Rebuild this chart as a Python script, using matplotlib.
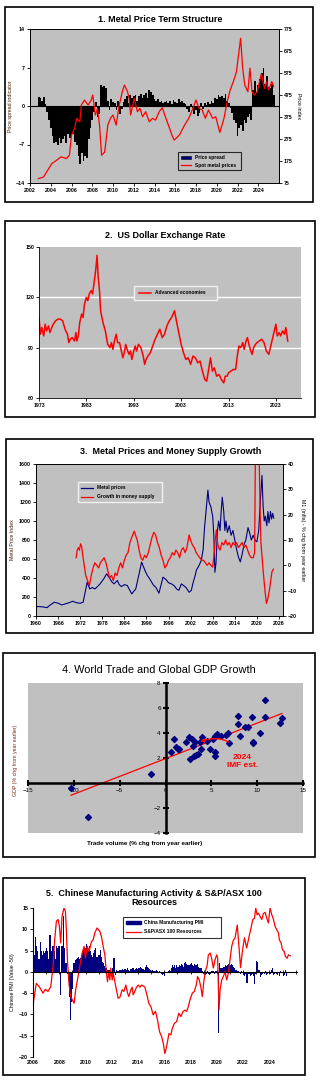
import numpy as np
import matplotlib
matplotlib.use("Agg")
import matplotlib.pyplot as plt
from matplotlib.patches import Rectangle, Patch
from matplotlib.lines import Line2D

plt.rcParams['font.family'] = ['Liberation Sans', 'DejaVu Sans']
plt.rcParams['font.weight'] = 'bold'

# ---- 1. Metal price term structure ----
spread_start = 2002.75          # bimonthly bars
spread = [1.7, 1.5,
          1.0, 1.6, 0.3, -1.0, -2.5, -4.0,
          -5.5, -6.8, -6.5, -7.0, -5.8, -6.8,
          -6.0, -5.5, -6.8, -5.0, -5.8, -5.5,
          -5.0, -6.5, -7.0, -9.0, -10.5, -8.5,
          -10.0, -9.0, -9.5, -6.0, -4.0, -2.5,
          -1.0, 0.8, -2.0, -1.5, 3.9, 3.5,
          3.7, 3.2, 1.0, -0.8, 1.2, 0.8,
          0.5, -0.8, 1.0, -1.5, -0.5, 0.8,
          1.2, 1.8, 0.5, 2.0, 1.5, 1.9,
          2.0, 1.0, 1.8, 2.2, 1.5, 2.0,
          2.3, 1.5, 2.9, 2.6, 2.0, 1.2,
          1.0, 1.3, 0.7, 0.9, 0.5, 0.8,
          1.0, 0.6, 0.9, 0.4, 1.1, 0.8,
          0.6, 1.2, 0.7, 1.0, 0.5, 0.3,
          -0.5, -1.0, 0.4, -0.3, -1.4, -0.8,
          -1.8, -1.2, 0.6, -0.5, 0.5, 0.2,
          0.8, 0.4, 1.0, 0.6, 1.5, 1.2,
          2.0, 1.6, 1.8, 1.4, 2.2, 1.0,
          0.5, -0.3, -1.2, -2.5, -3.0, -5.5,
          -4.0, -3.5, -4.5, -2.5, -3.0, -2.0,
          -1.5, -2.5, 3.0, 4.5, 2.5, 3.8,
          5.0, 6.0, 7.0, 4.0, 5.5, 3.5,
          3.2, 4.0, 2.0]
spot_years = [2002.8, 2003.3, 2003.6, 2004.1, 2004.55, 2005.0, 2005.5, 2005.8, 2006.0, 2006.3,
              2006.5, 2006.8, 2006.95, 2007.25, 2007.6, 2007.9, 2008.05, 2008.3, 2008.5, 2008.7,
              2008.9, 2009.2, 2009.5, 2009.75, 2010.0, 2010.3, 2010.6, 2010.9, 2011.1, 2011.4,
              2011.55, 2011.7, 2012.05, 2012.35, 2012.6, 2012.85, 2013.15, 2013.5, 2013.8, 2014.1,
              2014.45, 2014.75, 2015.1, 2015.4, 2015.7, 2015.9, 2016.4, 2016.9, 2017.3, 2017.7,
              2018.0, 2018.3, 2018.6, 2018.9, 2019.2, 2019.6, 2019.9, 2020.3, 2020.7, 2021.0,
              2021.3, 2021.6, 2021.9, 2022.1, 2022.3, 2022.5, 2022.7, 2023.0, 2023.2, 2023.4,
              2023.6, 2023.9, 2024.3, 2024.6, 2024.8, 2025.0, 2025.3, 2025.5]
spot_prices = [95, 102, 125, 163, 178, 194, 186, 201, 292, 323,
               369, 353, 429, 452, 429, 452, 475, 384, 414, 338,
               201, 216, 338, 369, 384, 338, 429, 490, 520, 490,
               460, 384, 460, 399, 414, 376, 399, 353, 369, 361,
               399, 417, 369, 330, 290, 270, 293, 338, 369, 414,
               452, 414, 407, 369, 407, 369, 376, 305, 369, 444,
               498, 536, 581, 657, 733, 597, 520, 490, 597, 490,
               475, 490, 573, 505, 536, 498, 536, 513]

# ---- 2. US dollar exchange rate ----
usd_years = [1973.0, 1973.3, 1973.6, 1974.0, 1974.3, 1974.6, 1975.0, 1975.3, 1975.7, 1976.0,
             1976.5, 1977.0, 1977.5, 1978.0, 1978.5, 1979.0, 1979.3, 1979.6, 1980.0, 1980.5,
             1980.8, 1981.0, 1981.3, 1981.6, 1982.0, 1982.3, 1982.6, 1983.0, 1983.3, 1983.6,
             1984.0, 1984.3, 1984.6, 1985.0, 1985.25, 1985.5, 1985.8, 1986.0, 1986.5, 1987.0,
             1987.5, 1988.0, 1988.3, 1988.6, 1989.0, 1989.3, 1989.6, 1990.0, 1990.4, 1990.7,
             1991.0, 1991.3, 1991.6, 1992.0, 1992.3, 1992.6, 1993.0, 1993.3, 1993.6, 1994.0,
             1994.5, 1995.0, 1995.3, 1995.6, 1996.0, 1996.5, 1997.0, 1997.5, 1998.0, 1998.5,
             1999.0, 1999.5, 2000.0, 2000.5, 2001.0, 2001.6, 2002.0, 2002.5, 2003.0, 2003.5,
             2004.0, 2004.5, 2005.0, 2005.5, 2006.0, 2006.5, 2007.0, 2007.5, 2008.0, 2008.4,
             2008.8, 2009.2, 2009.6, 2010.0, 2010.5, 2011.0, 2011.5, 2012.0, 2012.3, 2012.7,
             2013.0, 2013.5, 2014.0, 2014.5, 2014.9, 2015.2, 2015.6, 2016.0, 2016.3, 2016.7,
             2017.0, 2017.3, 2017.7, 2018.0, 2018.3, 2018.7, 2019.0, 2019.5, 2020.0, 2020.5,
             2021.0, 2021.5, 2022.0, 2022.5, 2023.0, 2023.3, 2023.7, 2024.0, 2024.4, 2024.8,
             2025.1, 2025.5]
usd_index = [108, 98, 102, 97, 104, 100, 103, 99, 102, 104,
             106, 107, 107, 106, 101, 98, 93, 95, 96, 94,
             99, 94, 97, 105, 110, 108, 116, 120, 118, 122,
             124, 122, 128, 137, 145, 132, 123, 112, 105, 100,
             92, 90, 93, 89, 95, 98, 93, 93, 88, 84,
             87, 92, 89, 86, 88, 83, 88, 91, 88, 92,
             90, 85, 80, 83, 85, 87, 91, 95, 98, 101,
             96, 98, 103, 106, 108, 112, 106, 99, 92, 87,
             83, 84, 80, 85, 84, 81, 82, 76, 71, 70,
             77, 84, 76, 78, 73, 74, 71, 69, 73, 73,
             75, 76, 77, 77, 86, 91, 90, 93, 89, 94,
             96, 92, 88, 86, 90, 92, 93, 94, 95, 93,
             88, 86, 92, 98, 104, 97, 99, 97, 100, 98,
             102, 94]

# ---- 3. Metal prices and money supply growth ----
metal_years = [1960, 1961, 1962, 1963, 1964, 1965, 1966, 1967, 1968, 1969,
               1970, 1971, 1972, 1972.8, 1973.4, 1973.9, 1974.6, 1975.3, 1976, 1976.7,
               1977.4, 1978.4, 1979.2, 1980.1, 1980.6, 1981.2, 1982.1, 1982.6, 1983.2, 1984,
               1984.8, 1985.5, 1986, 1987.1, 1988, 1988.7, 1989.6, 1990.2, 1990.9, 1991.5,
               1992, 1992.6, 1993.4, 1994.5, 1995.4, 1996, 1996.8, 1997.5, 1998.2, 1998.8,
               1999.5, 2000.1, 2000.7, 2001.6, 2002.2, 2002.7, 2003.2, 2003.6, 2004.3, 2004.9,
               2005.4, 2005.8, 2006.3, 2006.7, 2007.0, 2007.5, 2008.0, 2008.3, 2008.6, 2008.9,
               2009.3, 2009.6, 2010.0, 2010.3, 2010.6, 2011.0, 2011.3, 2011.6, 2012.0, 2012.5,
               2013.0, 2013.5, 2014.0, 2014.5, 2015.0, 2015.5, 2016.0, 2016.5, 2017.0, 2017.6,
               2018.0, 2018.5, 2019.0, 2019.5, 2020.0, 2020.5, 2021.0, 2021.4, 2021.7, 2022.0,
               2022.3, 2022.7, 2023.0, 2023.3, 2023.7, 2024.0, 2024.3, 2024.6]
metal_index = [100, 99, 95, 88, 120, 145, 135, 116, 128, 140,
               155, 140, 134, 145, 260, 356, 285, 300, 285, 310,
               338, 391, 444, 391, 360, 338, 374, 330, 310, 330,
               321, 270, 233, 285, 444, 567, 479, 430, 391, 350,
               321, 300, 240, 409, 381, 350, 338, 320, 285, 270,
               338, 320, 303, 250, 270, 356, 420, 486, 532, 585,
               700, 938, 1150, 1325, 1200, 1150, 1050, 850, 460, 560,
               900, 1000, 900, 1100, 1250, 1100, 900, 1000, 880, 950,
               850, 900, 800, 700, 620, 570, 650, 750, 800, 930,
               880, 800, 850, 800, 780, 900, 1250, 1480, 1150, 1000,
               1050, 950, 1100, 980, 1100, 1020, 1080, 1030]
m1_years = [1970.9, 1971.2, 1971.5, 1971.8, 1972.1, 1972.4, 1972.7, 1973.0, 1973.5, 1974.0,
            1974.5, 1975.0, 1975.5, 1976.0, 1976.5, 1977.0, 1977.5, 1978.0, 1978.5, 1979.0,
            1979.5, 1980.0, 1980.5, 1981.0, 1981.5, 1982.0, 1982.5, 1983.0, 1983.5, 1984.0,
            1984.5, 1985.0, 1985.5, 1986.0, 1986.7, 1987.0, 1987.5, 1988.0, 1988.5, 1989.0,
            1989.5, 1990.0, 1990.5, 1991.0, 1991.5, 1992.0, 1992.5, 1993.0, 1993.5, 1994.0,
            1994.5, 1995.0, 1995.5, 1996.0, 1996.5, 1997.0, 1997.5, 1998.0, 1998.5, 1999.0,
            1999.5, 2000.0, 2000.5, 2001.0, 2001.6, 2002.0, 2002.5, 2003.0, 2003.5, 2004.0,
            2004.5, 2005.0, 2005.5, 2006.0, 2006.5, 2007.0, 2007.5, 2008.0, 2008.4, 2008.7,
            2009.0, 2009.3, 2009.6, 2010.0, 2010.5, 2011.0, 2011.5, 2012.0, 2012.5, 2013.0,
            2013.5, 2014.0, 2014.5, 2015.0, 2015.5, 2016.0, 2016.5, 2017.0, 2017.5, 2018.0,
            2018.5, 2019.0, 2019.4, 2019.6, 2020.6, 2020.9, 2021.1, 2021.7, 2022.2, 2022.6,
            2023.0, 2023.5, 2024.1, 2024.5]
m1_growth = [3, 6, 7, 6, 8.5, 7.5, 4, 1, -4, -6,
             -8, -4, -1, 1, 0, -1, 1, 2, 3, 1,
             -2, -5, -4, -6, -3, -4, -1, 1, -1, 2,
             4, 5, 9, 11, 13.5, 12, 10, 6, 3, 2,
             4, 3, 5, 8, 11, 13, 12, 9, 7, 4,
             2, -1, 0, 2, 3, 5, 4, 6, 5, 3,
             6, 7, 5, 7, 12, 10, 8, 7, 5, 4,
             3, 2, 2, 1, 0, 1, 0, -0.7, 5, 10,
             14, 9, 7, 6, 9, 8, 10, 8, 9, 7,
             9, 8, 9, 7, 8, 9, 7, 8, 6, 4,
             3, 3, 5, 45, 45, 20, 9, -2, -10, -15,
             -13, -9, -2.5, -1.5]

# ---- 4. World trade and global GDP growth ----
trade_growth = [-10.3, -8.5, -1.6, 0.6, 0.95, 1.1, 1.35, 1.5, 2.25, 2.6,
                2.7, 2.9, 3.0, 3.1, 3.25, 3.35, 3.55, 3.75, 4.0, 3.9,
                4.5, 4.8, 5.2, 5.35, 5.4, 5.45, 5.65, 6.0, 6.55, 6.8,
                6.95, 7.95, 7.9, 8.15, 8.65, 8.95, 9.4, 9.5, 9.55, 10.35,
                10.85, 10.9, 12.5, 12.7]
gdp_growth = [-0.38, -2.7, 0.7, 2.47, 3.5, 2.9, 2.75, 2.7, 3.28, 3.66,
              1.92, 3.5, 2.95, 2.2, 3.28, 2.25, 2.3, 3.28, 3.66, 2.75,
              3.36, 2.7, 3.5, 3.77, 2.5, 2.2, 3.9, 3.8, 3.85, 4.04,
              3.22, 5.34, 4.7, 3.77, 4.5, 4.5, 5.28, 3.3, 3.2, 4.04,
              6.64, 5.26, 4.8, 5.2]
trend_x = [-10.3, 12.7]
trend_y = [-0.98, 5.56]
est_2024 = (3.8, 3.3)

# ---- 5. Chinese PMI and S&P/ASX 100 resources ----
pmi_start = 2006.0              # monthly bars, PMI - 50
pmi = [5.0, 4.0, 8.2, 6.0, 5.0, 3.0, 7.0, 5.0, 4.0, 5.0, 4.5, 5.0,
       5.5, 5.0, 3.0, 8.7, 5.0, 6.0, 6.0, 5.0, 3.0, 6.0, 5.5, 6.0,
       6.0, -5.4, 6.0, 13.2, 5.5, 2.0, 2.0, -0.5, -2.0, -6.0, -11.2, -7.0,
       -4.0, 2.0, 2.8, 3.0, 3.2, 3.5, 3.0, 3.2, 4.0, 4.5, 5.2, 5.5,
       6.5, 6.0, 5.0, 6.0, 5.0, 4.0, 3.6, 4.5, 5.2, 5.5, 3.6, 4.0,
       4.0, 5.2, 3.5, 2.4, 2.0, 1.3, 1.0, 0.8, 0.5, 0.5, 0.2, 0.0,
       0.8, 3.2, 3.2, -0.7, 0.5, 0.3, 0.2, 0.5, 0.4, 0.6, 0.5, 0.7,
       0.6, 0.4, 0.8, 0.5, 0.3, 0.6, 0.8, 1.0, 0.5, 0.7, 0.8, 0.6,
       1.0, 0.8, 1.2, 1.0, 0.6, 0.4, 1.2, 1.5, 1.2, 0.8, 0.6, 0.5,
       0.3, 0.4, 0.2, 0.3, 0.4, 0.2, 0.0, 0.1, -0.3, -0.5, -0.8, -0.6,
       -1.0, -0.2, 0.0, 0.2, 0.5, 0.3, 0.8, 1.5, 1.2, 1.5, 1.0, 1.5,
       1.2, 1.6, 1.4, 1.8, 1.5, 1.2, 2.0, 2.2, 1.8, 1.5, 1.6, 1.8,
       2.0, 1.6, 1.4, 1.8, 1.6, 1.5, 1.8, 1.2, 1.0, 0.8, 0.2, -0.5,
       -0.6, -0.8, -0.5, 0.3, -0.4, -0.8, -0.5, 0.3, 0.2, -0.4, 0.2, 0.3,
       0.0, -14.3, 2.0, 1.0, 0.8, 1.0, 1.2, 1.5, 1.3, 1.5, 1.8, 1.4,
       1.6, 1.8, 1.5, 1.2, 1.0, 0.5, 0.3, 0.2, -0.3, -0.5, 0.2, -0.3,
       -0.8, -1.0, -0.5, -2.7, -0.5, -0.4, -1.0, -0.8, -0.6, -0.9, -2.9, -0.5,
       2.6, 2.2, 0.5, -1.2, -0.8, -0.5, -0.3, -0.6, 0.2, -0.8, -0.4, -0.3,
       -0.5, 0.4, 0.8, -0.8, -0.5, -0.3, -0.5, -0.7, -0.2, -1.0, 0.3, -0.2,
       -1.0, -0.8, 0.4, -1.0]
asx_years = [2006.0, 2006.25, 2006.5, 2006.76, 2006.94, 2007.14, 2007.35, 2007.53, 2007.65, 2007.78,
             2007.91, 2008.01, 2008.11, 2008.21, 2008.36, 2008.47, 2008.54, 2008.62, 2008.75, 2008.87,
             2009.0, 2009.13, 2009.25, 2009.43, 2009.56, 2009.74, 2009.89, 2009.99, 2010.14, 2010.27,
             2010.45, 2010.58, 2010.7, 2010.88, 2011.09, 2011.21, 2011.34, 2011.47, 2011.59, 2011.67,
             2011.77, 2011.85, 2011.92, 2012.03, 2012.1, 2012.23, 2012.36, 2012.48, 2012.61, 2012.79,
             2012.92, 2013.07, 2013.2, 2013.3, 2013.45, 2013.55, 2013.63, 2013.75, 2013.88, 2014.01,
             2014.14, 2014.26, 2014.39, 2014.52, 2014.67, 2014.82, 2014.98, 2015.15, 2015.33, 2015.48,
             2015.64, 2015.79, 2015.92, 2016.04, 2016.17, 2016.35, 2016.5, 2016.6, 2016.76, 2016.93,
             2017.11, 2017.26, 2017.42, 2017.57, 2017.7, 2017.82, 2017.95, 2018.13, 2018.28, 2018.43,
             2018.53, 2018.66, 2018.79, 2018.89, 2019.02, 2019.15, 2019.25, 2019.35, 2019.5, 2019.6,
             2019.73, 2019.86, 2019.98, 2020.06, 2020.16, 2020.24, 2020.37, 2020.52, 2020.62, 2020.75,
             2020.87, 2021.0, 2021.13, 2021.26, 2021.38, 2021.55, 2021.68, 2021.8, 2021.95, 2022.1,
             2022.27, 2022.45, 2022.6, 2022.73, 2022.86, 2022.96, 2023.06, 2023.16, 2023.29, 2023.42,
             2023.54, 2023.67, 2023.8, 2023.92, 2024.05, 2024.18, 2024.31, 2024.43, 2024.56, 2024.69,
             2024.76, 2024.89, 2024.99, 2025.12, 2025.22, 2025.35, 2025.45, 2025.58]
asx_values = [-7.8, -2.7, -3.6, -5.0, -4.1, -4.6, -3.5, 1.3, 7.5, 11.9,
              12.3, 10.7, 6.8, 13.0, 15.0, 14.2, 9.9, 2.8, -3.1, -5.8,
              -6.6, -7.4, -4.2, -1.1, 1.3, 4.4, 6.0, 3.2, 6.0, 4.8,
              7.1, 7.5, 9.1, 10.3, 9.5, 8.3, 6.0, 4.0, -0.3, -2.3,
              0.1, -1.9, 0.9, -1.9, -0.3, -2.3, -4.2, -6.2, -6.0, -4.2,
              -4.6, -3.1, -5.0, -5.8, -4.2, -3.6, -5.4, -4.6, -3.6, -3.1,
              -3.6, -3.1, -3.3, -3.6, -5.4, -7.4, -8.2, -10.1, -9.3, -11.3,
              -14.1, -15.2, -16.8, -19.2, -17.6, -14.5, -14.8, -13.3, -12.1, -11.7,
              -9.7, -10.5, -9.3, -9.0, -9.3, -8.2, -6.6, -5.0, -4.6, -3.1,
              -1.1, -1.9, -3.8, -5.8, -1.9, 0.5, 1.3, 4.0, 4.4, 3.2,
              0.9, 2.8, 4.0, 3.2, -9.0, -4.2, -1.9, -0.9, 0.1, -1.9,
              -0.3, 2.8, 6.0, 7.5, 7.9, 11.0, 6.0, 1.0, 5.0, 8.0,
              5.6, 8.3, 10.3, 12.3, 12.6, 15.0, 13.4, 13.8, 13.0, 12.3,
              13.7, 14.0, 12.6, 11.5, 15.0, 13.4, 12.3, 10.7, 9.9, 9.1,
              7.5, 6.8, 5.2, 4.8, 3.6, 3.2, 4.0, 3.8]

NAVY = '#000080'
GREY = '#c0c0c0'
W, H = 322, 1082

fig = plt.figure(figsize=(W / 100, H / 100), dpi=100)
fig.patch.set_facecolor('white')


def rect(x0, y0, x1, y1):
    return [x0 / W, 1 - y1 / H, (x1 - x0) / W, (y1 - y0) / H]


def frame(x0, y0, x1, y1):
    fig.add_artist(Rectangle((x0 / W, 1 - y1 / H), (x1 - x0) / W, (y1 - y0) / H,
                             transform=fig.transFigure, fill=False,
                             edgecolor='black', linewidth=1.2))


def title(x, y, s, size=6.5, weight='bold'):
    fig.text(x / W, 1 - y / H, s, ha='center', va='center', fontsize=size,
             fontweight=weight, linespacing=1.1)


def small_ticks(ax, size=3.8):
    ax.tick_params(labelsize=size, length=2, width=0.6, pad=1.5)


# panel 1
frame(5, 7, 313, 202)
title(160, 19, "1. Metal Price Term Structure")
ax1 = fig.add_axes(rect(30, 29, 279, 183))
ax1.set_facecolor(GREY)
spread_x = spread_start + np.arange(len(spread)) / 6
ax1.bar(spread_x, spread, width=1 / 6, align='edge', color='black', linewidth=0)
ax1.axhline(0, color='black', linewidth=0.8)
ax1.set_xlim(2002, 2026)
ax1.set_ylim(-14, 14)
ax1.set_xticks(np.arange(2002, 2025, 2))
ax1.set_yticks([-14, -7, 0, 7, 14])
small_ticks(ax1)
ax1.set_ylabel("Price spread indicator", fontsize=3.8, color='#4a2000', labelpad=2)
ax1r = ax1.twinx()
ax1r.plot(spot_years, spot_prices, color='red', linewidth=0.9)
ax1r.set_ylim(75, 775)
ax1r.set_yticks(np.arange(75, 776, 100))
small_ticks(ax1r)
ax1r.set_ylabel("Price index", fontsize=3.8, rotation=-90, labelpad=6)
for a in (ax1, ax1r):
    for s in a.spines.values():
        s.set_linewidth(0.6)
h1 = [Patch(facecolor=NAVY, edgecolor='black', linewidth=0.4),
      Line2D([], [], color='red', linewidth=0.9)]
ax1r.legend(h1, ["Price spread", "Spot metal prices"], loc='center',
            bbox_to_anchor=(0.586, 0.084, 0.27, 0.113), mode='expand',
            fontsize=3.5, frameon=True, facecolor=GREY, edgecolor='black',
            fancybox=False, handlelength=2.2, borderpad=0.5, labelspacing=0.6
            ).get_frame().set_linewidth(0.8)

# panel 2
frame(5, 221, 315, 417)
title(165, 235, "2.  US Dollar Exchange Rate")
ax2 = fig.add_axes(rect(39, 247, 301, 398))
ax2.set_facecolor(GREY)
for y in (90, 120):
    ax2.axhline(y, color='white', linewidth=1.0)
usd_line, = ax2.plot(usd_years, usd_index, color='red', linewidth=1.1)
ax2.set_xlim(1973, 2028.3)
ax2.set_ylim(60, 150)
ax2.set_xticks(np.arange(1973, 2024, 10))
ax2.set_yticks([60, 90, 120, 150])
small_ticks(ax2)
ax2.spines['top'].set_visible(False)
ax2.spines['right'].set_visible(False)
for s in ('left', 'bottom'):
    ax2.spines[s].set_linewidth(0.6)
ax2.legend([usd_line], ["Advanced economies"], loc='center',
           bbox_to_anchor=(0.355, 0.636, 0.335, 0.119), mode='expand',
           fontsize=3.5, frameon=True, facecolor=GREY, edgecolor='white',
           fancybox=False, handlelength=2.5, borderpad=1.0
           ).get_frame().set_linewidth(1.0)

# panel 3
frame(6, 439, 313, 633)
title(171, 452, "3.  Metal Prices and Money Supply Growth")
ax3 = fig.add_axes(rect(36, 464, 283, 616))
ax3.set_facecolor(GREY)
ax3.plot(metal_years, metal_index, color=NAVY, linewidth=0.8)
ax3.set_xlim(1960, 2027.1)
ax3.set_ylim(0, 1600)
ax3.set_xticks(np.arange(1960, 2027, 6))
ax3.set_yticks(np.arange(0, 1601, 200))
small_ticks(ax3)
ax3.set_ylabel("Metal Price Index", fontsize=3.8, color='#4a2000', labelpad=3)
ax3r = ax3.twinx()
ax3r.plot(m1_years, m1_growth, color='red', linewidth=0.9)
ax3r.set_ylim(-20, 40)
ax3r.set_yticks(np.arange(-20, 41, 10))
small_ticks(ax3r)
ax3r.set_ylabel("M1 (infla) - % chg from year earlier", fontsize=3.8,
                rotation=-90, labelpad=6)
for a in (ax3, ax3r):
    for s in a.spines.values():
        s.set_linewidth(0.6)
h3 = [Line2D([], [], color=NAVY, linewidth=0.9), Line2D([], [], color='red', linewidth=0.9)]
ax3r.legend(h3, ["Metal prices", "Growth in money supply"], loc='center',
            bbox_to_anchor=(0.16, 0.74, 0.36, 0.148), mode='expand',
            fontsize=3.5, frameon=True, facecolor=GREY, edgecolor='white',
            fancybox=False, handlelength=2.5, borderpad=0.6, labelspacing=0.8
            ).get_frame().set_linewidth(1.0)

# panel 4
frame(3, 653, 315, 857)
title(159, 670, "4. World Trade and Global GDP Growth", size=7.9, weight='normal')
ax4 = fig.add_axes(rect(28, 683, 303, 833))
ax4.set_facecolor(GREY)
ax4.set_xlim(-15, 15)
ax4.set_ylim(-4, 8)
ax4.spines['left'].set_position(('data', 0))
ax4.spines['bottom'].set_position(('data', 0))
ax4.spines['top'].set_visible(False)
ax4.spines['right'].set_visible(False)
for s in ('left', 'bottom'):
    ax4.spines[s].set_linewidth(1.8)
ax4.set_xticks(np.arange(-15, 16, 5))
ax4.set_yticks([-4, -2, 2, 4, 6, 8])
ax4.tick_params(direction='inout', length=4, width=1.5, labelsize=4.5, pad=1.5)
for lbl in ax4.get_xticklabels() + ax4.get_yticklabels():
    lbl.set_fontweight('normal')
ax4.plot(trend_x, trend_y, color='red', linewidth=0.9, zorder=2)
ax4.scatter(trade_growth, gdp_growth, marker='D', s=9, color=NAVY, zorder=3)
ax4.annotate("2024\nIMF est.", xy=est_2024, xytext=(8.4, 1.75), color='red',
             fontsize=6, ha='center', va='center', fontweight='bold',
             arrowprops=dict(arrowstyle='-|>', color='red', linewidth=1.0,
                             mutation_scale=5, shrinkA=9, shrinkB=0,
                             connectionstyle='arc3,rad=0.5'))
fig.text(145 / W, 1 - 844 / H, "Trade volume (% chg from year earlier)",
         ha='center', va='center', fontsize=4.5)
fig.text(16 / W, 1 - 760 / H, "GDP (% chg from year earlier)", rotation=90,
         ha='center', va='center', fontsize=3.8, color='#7a2a10', fontweight='normal')

# panel 5
frame(3, 878, 305, 1075)
title(154, 898, "5.  Chinese Manufacturing Activity & S&P/ASX 100\nResources")
ax5 = fig.add_axes(rect(33, 908, 297, 1057))
ax5.set_facecolor('white')
pmi_x = pmi_start + np.arange(len(pmi)) / 12
ax5.bar(pmi_x, pmi, width=1 / 12, align='edge', color=NAVY, linewidth=0)
ax5.plot(asx_years, asx_values, color='red', linewidth=0.9)
ax5.set_xlim(2006, 2026.1)
ax5.set_ylim(-20, 15)
ax5.set_yticks(np.arange(-20, 16, 5))
ax5.spines['top'].set_visible(False)
ax5.spines['right'].set_visible(False)
ax5.spines['bottom'].set_position(('data', 0))
ax5.spines['bottom'].set_linewidth(0.8)
ax5.spines['left'].set_linewidth(0.8)
ax5.set_xticks(np.arange(2006, 2027, 1))
ax5.tick_params(axis='x', direction='inout', length=3, width=0.6, labelbottom=False)
ax5.tick_params(axis='y', labelsize=3.8, length=2, width=0.6, pad=1.5)
sec5 = ax5.secondary_xaxis(0.0)
sec5.set_xticks(np.arange(2006, 2025, 2))
sec5.tick_params(length=0, labelsize=3.8, pad=2)
sec5.spines['bottom'].set_visible(False)
ax5.set_ylabel("Chinese PMI (Value -50)", fontsize=3.8, labelpad=3)
h5 = [Patch(facecolor=NAVY, edgecolor=NAVY), Line2D([], [], color='red', linewidth=0.9)]
ax5.legend(h5, ["China Manufacturing PMI", "S&P/ASX 100 Resources"], loc='center',
           bbox_to_anchor=(0.33, 0.79, 0.39, 0.163), mode='expand',
           fontsize=3.5, frameon=True, facecolor='white', edgecolor='black',
           fancybox=False, handlelength=3.0, borderpad=0.7, labelspacing=0.9
           ).get_frame().set_linewidth(0.8)

fig.savefig("out.png", dpi=100)
